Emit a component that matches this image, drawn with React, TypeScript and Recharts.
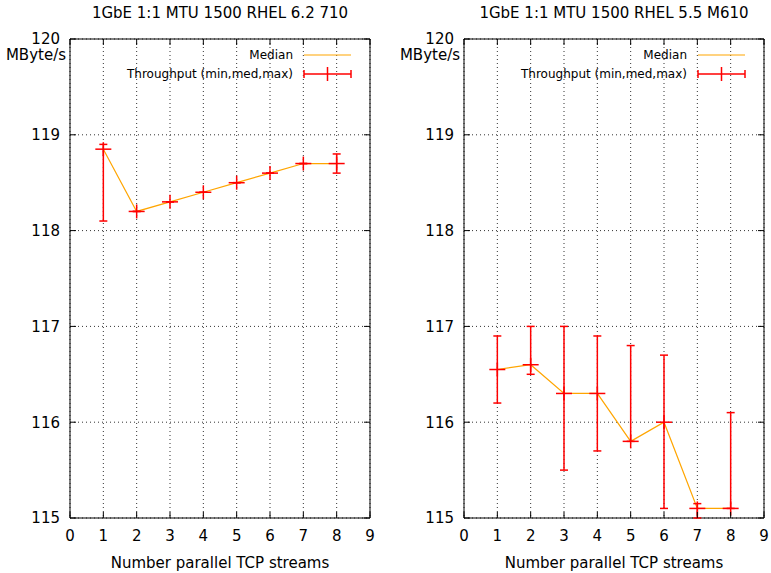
import React from "react";
import {
  ComposedChart,
  Line,
  Scatter,
  ErrorBar,
  XAxis,
  YAxis,
  CartesianGrid,
  ReferenceArea,
  Legend
} from "recharts";

const streams = [1, 2, 3, 4, 5, 6, 7, 8];

const leftMedian = [118.85, 118.2, 118.3, 118.4, 118.5, 118.6, 118.7, 118.7];
const leftMin = [118.1, 118.2, 118.3, 118.4, 118.5, 118.6, 118.7, 118.6];
const leftMax = [118.9, 118.2, 118.3, 118.4, 118.5, 118.6, 118.7, 118.8];

const rightMedian = [116.55, 116.6, 116.3, 116.3, 115.8, 116.0, 115.1, 115.1];
const rightMin = [116.2, 116.5, 115.5, 115.7, 115.8, 115.1, 115.0, 115.1];
const rightMax = [116.9, 117.0, 117.0, 116.9, 116.8, 116.7, 115.15, 116.1];

const xTicks = [0, 1, 2, 3, 4, 5, 6, 7, 8, 9];
const yTicks = [115, 116, 117, 118, 119, 120];

const FONT = "'DejaVu Sans', sans-serif";
const RED = "#ff0000";
const ORANGE = "#ffa500";
const TOP = 39;
const HEIGHT = 573;
const X_AXIS_H = 55;
const PLOT_BOTTOM = HEIGHT - X_AXIS_H;
const TICK = 6;

const buildRows = (median: number[], min: number[], max: number[]) =>
  streams.map((x, i) => ({
    x,
    median: median[i],
    err: [median[i] - min[i], max[i] - median[i]]
  }));

const Cross = (props: any) => {
  const { cx, cy } = props;
  if (cx == null || cy == null) return null;
  return (
    <g stroke={RED} strokeWidth={1.5}>
      <line x1={cx - 8} x2={cx + 8} y1={cy} y2={cy} />
      <line x1={cx} x2={cx} y1={cy - 7} y2={cy + 7} />
    </g>
  );
};

const XTick = (props: any) => {
  const { x, y, payload } = props;
  return (
    <g>
      <line x1={x} x2={x} y1={y} y2={y - TICK} stroke="#000" />
      <line x1={x} x2={x} y1={TOP} y2={TOP + TICK} stroke="#000" />
      <text x={x} y={y + 23} textAnchor="middle" fontSize={15} fontFamily={FONT} fill="#000">
        {payload.value}
      </text>
    </g>
  );
};

const makeYTick = (plotW: number) => (props: any) => {
  const { x, y, payload } = props;
  return (
    <g>
      <line x1={x} x2={x + TICK} y1={y} y2={y} stroke="#000" />
      <line x1={x + plotW} x2={x + plotW - TICK} y1={y} y2={y} stroke="#000" />
      <text x={x - 10} y={y} dy="0.36em" textAnchor="end" fontSize={15} fontFamily={FONT} fill="#000">
        {payload.value}
      </text>
      {payload.value === 120 && (
        <text x={x - 4} y={y + 16} dy="0.36em" textAnchor="end" fontSize={15} fontFamily={FONT} fill="#000">
          MByte/s
        </text>
      )}
    </g>
  );
};

const makeLegend = (width: number, right: number) => () => {
  const a = right - 66;
  const b = right - 19;
  const m = (a + b) / 2;
  return (
    <svg width={width} height={40} style={{ display: "block" }}>
      <text x={right - 77} y={11} dy="0.36em" textAnchor="end" fontSize={12} fontFamily={FONT} fill="#000">
        Median
      </text>
      <line x1={a} x2={b} y1={11} y2={11} stroke={ORANGE} strokeWidth={1.2} />
      <text x={right - 77} y={30} dy="0.36em" textAnchor="end" fontSize={12} fontFamily={FONT} fill="#000">
        Throughput (min,med,max)
      </text>
      <g stroke={RED} strokeWidth={1.5}>
        <line x1={a} x2={b} y1={30} y2={30} />
        <line x1={a} x2={a} y1={26} y2={34} />
        <line x1={b} x2={b} y1={26} y2={34} />
        <line x1={m} x2={m} y1={23} y2={37} />
      </g>
    </svg>
  );
};

const Panel = ({
  title,
  median,
  min,
  max,
  width,
  axisW,
  rightMargin,
  left
}: {
  title: string;
  median: number[];
  min: number[];
  max: number[];
  width: number;
  axisW: number;
  rightMargin: number;
  left: number;
}) => {
  const rows = buildRows(median, min, max);
  const plotW = width - axisW - rightMargin;
  const plotRight = width - rightMargin;
  return (
    <div style={{ position: "absolute", left, top: 0, width, height: HEIGHT }}>
      <div
        style={{
          position: "absolute",
          left: axisW,
          width: plotW,
          top: 4,
          textAlign: "center",
          fontFamily: FONT,
          fontSize: 15,
          lineHeight: "18px",
          color: "#000",
          whiteSpace: "nowrap"
        }}
      >
        {title}
      </div>
      <ComposedChart
        width={width}
        height={HEIGHT}
        data={rows}
        margin={{ top: TOP, right: rightMargin, bottom: 0, left: 0 }}
      >
        <CartesianGrid stroke="#333" strokeDasharray="1 3" />
        <XAxis
          dataKey="x"
          type="number"
          domain={[0, 9]}
          ticks={xTicks}
          interval={0}
          height={X_AXIS_H}
          axisLine={false}
          tickLine={false}
          tickSize={0}
          tickMargin={0}
          tick={<XTick />}
          label={{
            value: "Number parallel TCP streams",
            position: "insideBottom",
            offset: 5,
            fontSize: 15,
            fontFamily: FONT,
            fill: "#000"
          }}
        />
        <YAxis
          type="number"
          domain={[115, 120]}
          ticks={yTicks}
          interval={0}
          width={axisW}
          axisLine={false}
          tickLine={false}
          tickSize={0}
          tickMargin={0}
          tick={makeYTick(plotW)}
        />
        <Legend
          layout="horizontal"
          verticalAlign="middle"
          align="center"
          content={makeLegend(width, plotRight)}
          wrapperStyle={{ position: "absolute", top: TOP + 5, left: 0, width, height: 40 }}
        />
        <Line
          dataKey="median"
          stroke={ORANGE}
          strokeWidth={1.2}
          dot={false}
          activeDot={false}
          legendType="none"
          isAnimationActive={false}
        />
        <Scatter dataKey="median" shape={<Cross />} legendType="none" isAnimationActive={false}>
          <ErrorBar dataKey="err" direction="y" width={4} stroke={RED} strokeWidth={1.5} />
        </Scatter>
        <ReferenceArea x1={0} x2={9} y1={115} y2={120} fill="none" stroke="#000" strokeWidth={1} />
      </ComposedChart>
    </div>
  );
};

export default function App() {
  return (
    <div style={{ position: "absolute", left: 0, top: 0, width: 771, height: HEIGHT, background: "#fff" }}>
      <Panel
        title="1GbE 1:1 MTU 1500 RHEL 6.2 710"
        median={leftMedian}
        min={leftMin}
        max={leftMax}
        width={390}
        axisW={70}
        rightMargin={20}
        left={0}
      />
      <Panel
        title="1GbE 1:1 MTU 1500 RHEL 5.5 M610"
        median={rightMedian}
        min={rightMin}
        max={rightMax}
        width={381}
        axisW={74}
        rightMargin={7}
        left={390}
      />
    </div>
  );
}
